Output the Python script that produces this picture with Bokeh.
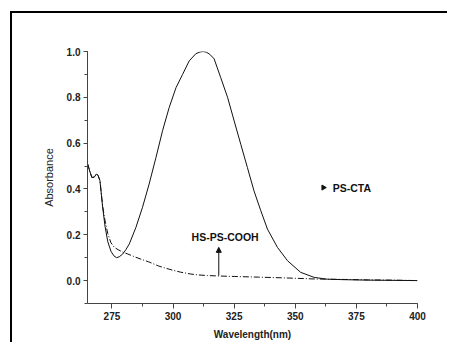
from bokeh.plotting import figure
from bokeh.models import (SingleIntervalTicker, PrintfTickFormatter, Range1d, Arrow,
                          NormalHead, Label)
from bokeh.embed import file_html
from bokeh.resources import INLINE
import math

# PS-CTA (solid)
x_cta = [265, 266, 266.8, 267.8, 268.6, 269.3, 270.1, 271.2, 272.2, 273.3, 274.6, 275.8,
         276.9, 278.0, 279.4, 280.7, 282.1, 284.8, 287.5, 290.2, 293.0, 295.7, 298.4,
         301.2, 303.9, 306.6, 309.3, 311.0, 312.3, 313.6, 315.0, 316.8, 319.5, 322.3, 325.0,
         327.7, 330.4, 333.1, 335.9, 338.6, 342.7, 346.8, 352.2, 357.7, 363.1, 370, 380,
         390, 400]
y_cta = [0.511, 0.475, 0.45, 0.452, 0.465, 0.46, 0.436, 0.32, 0.235, 0.17, 0.128, 0.108,
         0.10, 0.104, 0.116, 0.135, 0.16, 0.232, 0.32, 0.421, 0.537, 0.654, 0.755,
         0.842, 0.90, 0.959, 0.99, 0.998, 1.0, 0.997, 0.988, 0.968, 0.886, 0.80, 0.697,
         0.595, 0.494, 0.392, 0.305, 0.225, 0.145, 0.087, 0.036, 0.014, 0.006, 0.004, 0.002,
         0.001, 0.0]

# HS-PS-COOH (dash-dot)
x_cooh = [265, 266, 266.8, 267.8, 268.6, 269.3, 270.1, 271.2, 272.2, 273.3, 274.6, 276.0,
          277.5, 279.5, 281.5, 284, 287, 290, 294, 297, 300, 303, 307, 310, 314, 319,
          325, 335, 345, 358, 370, 380, 390, 400]
y_cooh = [0.511, 0.475, 0.45, 0.452, 0.465, 0.46, 0.436, 0.325, 0.26, 0.205, 0.165, 0.145,
          0.135, 0.124, 0.116, 0.105, 0.093, 0.082, 0.064, 0.054, 0.045, 0.037, 0.029,
          0.025, 0.022, 0.02, 0.018, 0.015, 0.012, 0.007, 0.005, 0.003, 0.002, 0.0]

label_cta = "PS-CTA"
label_cooh = "HS-PS-COOH"
label_cta_pos = (365.3, 0.406)
label_cooh_pos = (321.3, 0.192)
arrow_x = 318.7
arrow_y = (0.022, 0.145)

FONT = "Liberation Sans"

p = figure(width=437, height=331, output_backend="svg", toolbar_location=None,
           x_range=Range1d(265, 400), y_range=Range1d(-0.1, 1.0),
           min_border_left=75, min_border_right=32, min_border_top=38, min_border_bottom=41)
p.margin = (11, 0, 0, 10)
p.styles = {"border-top": "2px solid black", "border-left": "2px solid black"}
p.outline_line_color = None
p.grid.visible = False
p.background_fill_color = "white"
p.border_fill_color = "white"

p.line(x_cta, y_cta, line_color="#111111", line_width=1)
p.line(x_cooh, y_cooh, line_color="#111111", line_width=1, line_dash="6 2 1 2")

for ax in (p.xaxis[0], p.yaxis[0]):
    ax.axis_line_color = "#444444"
    ax.major_tick_line_color = "#444444"
    ax.minor_tick_line_color = "#444444"
    ax.major_tick_in = 0
    ax.minor_tick_in = 0
    ax.major_label_text_font = FONT
    ax.major_label_text_font_style = "bold"
    ax.major_label_text_font_size = "10px"
    ax.major_label_text_color = "#222222"
    ax.axis_label_text_font = FONT
    ax.axis_label_text_color = "#222222"
    ax.axis_label_text_font_size = "11px"

p.xaxis.ticker = SingleIntervalTicker(interval=25, num_minor_ticks=2)
p.yaxis.ticker = SingleIntervalTicker(interval=0.2, num_minor_ticks=2)
p.yaxis.formatter = PrintfTickFormatter(format="%.1f")
p.xaxis.major_tick_out = 5
p.xaxis.minor_tick_out = 3
p.yaxis.major_tick_out = 4
p.yaxis.minor_tick_out = 3
p.xaxis.major_label_standoff = 3
p.yaxis.major_label_standoff = 3

p.xaxis.axis_label = "Wavelength(nm)"
p.xaxis.axis_label_text_font_style = "bold"
p.xaxis.axis_label_text_font_size = "10px"
p.xaxis.axis_label_standoff = 6
p.yaxis.axis_label = "Absorbance"
p.yaxis.axis_label_text_font_style = "normal"
p.yaxis.axis_label_standoff = 9

# annotations
p.add_layout(Arrow(end=NormalHead(size=5, fill_color="#111111", line_color="#111111"),
                   x_start=arrow_x, y_start=arrow_y[0], x_end=arrow_x, y_end=arrow_y[1],
                   line_color="#111111", line_width=1))
p.add_layout(Label(x=label_cooh_pos[0], y=label_cooh_pos[1], text=label_cooh,
                   text_font=FONT, text_font_style="bold", text_font_size="10.5px",
                   text_align="center", text_baseline="middle", text_color="#111111"))
p.scatter([label_cta_pos[0] - 3.8], [label_cta_pos[1]], marker="triangle", size=5,
          angle=-math.pi / 2, fill_color="#111111", line_color="#111111")
p.add_layout(Label(x=label_cta_pos[0], y=label_cta_pos[1], text=label_cta,
                   text_font=FONT, text_font_style="bold", text_font_size="10.5px",
                   text_align="left", text_baseline="middle", text_color="#111111"))

open("out.html", "w").write(file_html(p, INLINE))
